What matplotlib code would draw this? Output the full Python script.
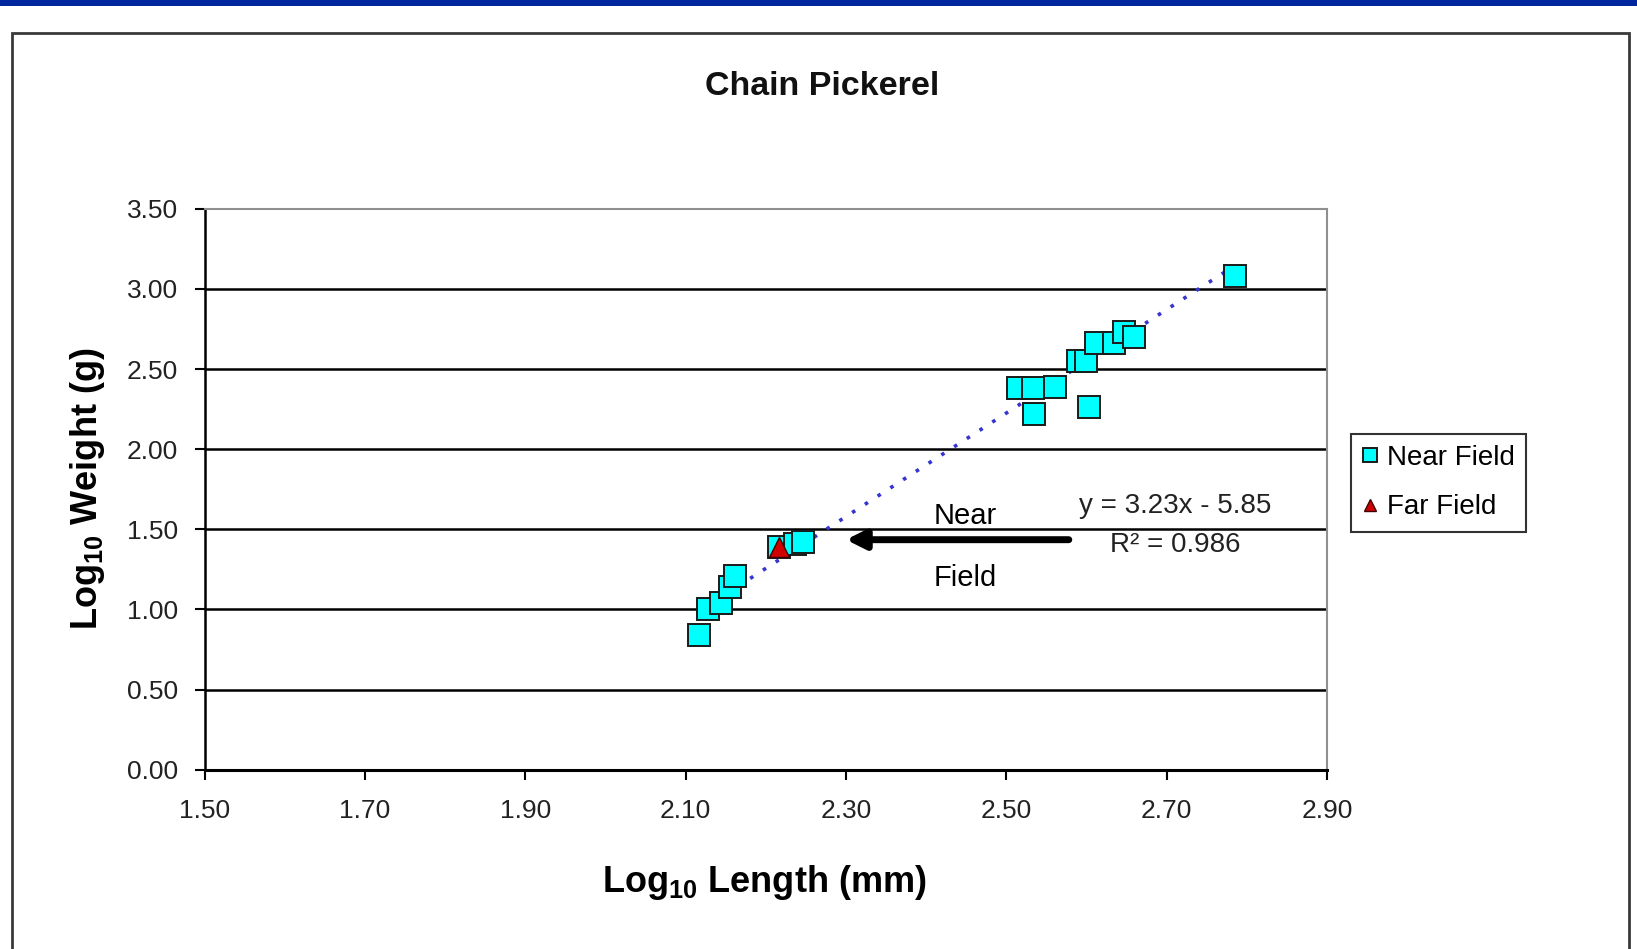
import matplotlib
matplotlib.use("Agg")
import matplotlib.pyplot as plt
from matplotlib.patches import Rectangle
import numpy as np

plt.rcParams['font.family'] = ['Liberation Sans', 'DejaVu Sans']
plt.rcParams['mathtext.default'] = 'regular'

# near field fish (log10 length mm, log10 weight g)
near_x = [2.117, 2.128, 2.144, 2.155, 2.162, 2.217, 2.236, 2.247,
          2.514, 2.533, 2.535, 2.561, 2.590, 2.600, 2.603, 2.612,
          2.634, 2.647, 2.659, 2.785]
near_y = [0.84, 1.00, 1.04, 1.14, 1.21, 1.39, 1.41, 1.42,
          2.38, 2.38, 2.22, 2.39, 2.55, 2.55, 2.26, 2.66,
          2.66, 2.73, 2.70, 3.08]
# far field fish
far_x = [2.217]
far_y = [1.39]

# trendline y = a*x + b
slope = 3.23
intercept = -5.85
r2 = 0.986

xticks = [1.50, 1.70, 1.90, 2.10, 2.30, 2.50, 2.70, 2.90]
yticks = [0.0, 0.5, 1.0, 1.5, 2.0, 2.5, 3.0, 3.5]

fig = plt.figure(figsize=(16.37, 9.49), dpi=100)
ax = fig.add_axes([0.125, 0.189, 0.6856, 0.591])

# outer frame and blue bar
fig.patches.append(Rectangle((0.0076, -0.05), 0.9876, 1.015, transform=fig.transFigure,
                             fill=False, edgecolor='#3a3a3a', linewidth=2))
fig.patches.append(Rectangle((0, 0.9937), 1, 0.0063, transform=fig.transFigure,
                             facecolor='#0026a0', edgecolor='none'))

for yv in yticks[1:-1]:
    ax.axhline(yv, color='black', linewidth=1.8, zorder=1)

tx = np.array([min(near_x), max(near_x)])
ax.plot(tx, slope * tx + intercept, color='#3535d0', linestyle=(0, (1, 3.2)),
        linewidth=2.6, zorder=3)

ax.plot(near_x, near_y, linestyle='none', marker='s', markersize=15.5,
        markerfacecolor='#00ffff', markeredgecolor='#1a1a1a', markeredgewidth=1.4,
        label='Near Field', zorder=4)
ax.plot(far_x, far_y, linestyle='none', marker='^', markersize=14,
        markerfacecolor='#d00000', markeredgecolor='#400000', markeredgewidth=1,
        label='Far Field', zorder=5)

ax.annotate('', xy=(2.30, 1.435), xytext=(2.578, 1.435),
            arrowprops=dict(arrowstyle='-|>', lw=5, color='black', mutation_scale=28,
                            shrinkA=0, shrinkB=0))
ax.text(2.449, 1.585, 'Near', fontsize=21, ha='center', va='center', color='black')
ax.text(2.449, 1.195, 'Field', fontsize=21, ha='center', va='center', color='black')
ax.text(2.711, 1.645, 'y = 3.23x - 5.85', fontsize=20, ha='center', va='center', color='#222222')
ax.text(2.711, 1.40, 'R² = %.3f' % r2, fontsize=20, ha='center', va='center', color='#222222')

ax.set_xlim(1.5, 2.9)
ax.set_ylim(0, 3.5)
ax.set_xticks(xticks)
ax.set_yticks(yticks)
ax.set_xticklabels(['%.2f' % v for v in xticks])
ax.set_yticklabels(['%.2f' % v for v in yticks])
ax.tick_params(axis='both', direction='out', length=7, width=1.5, labelsize=19,
               labelcolor='#222222', color='black')
ax.tick_params(axis='x', pad=14)
ax.tick_params(axis='y', pad=12)

ax.spines['left'].set_linewidth(1.8)
ax.spines['bottom'].set_linewidth(2.2)
ax.spines['top'].set_color('#909090')
ax.spines['right'].set_color('#909090')
ax.spines['top'].set_linewidth(1.5)
ax.spines['right'].set_linewidth(1.5)

ax.set_xlabel('Log$_{10}$ Length (mm)', fontsize=26, fontweight='bold')
ax.set_ylabel('Log$_{10}$ Weight (g)', fontsize=26, fontweight='bold')
ax.xaxis.set_label_coords(0.499, -0.166)
ax.yaxis.set_label_coords(-0.087, 0.5)

fig.text(0.502, 0.909, 'Chain Pickerel', fontsize=24.5, fontweight='bold',
         ha='center', va='center', color='#111111')

leg = fig.legend(loc='upper left', bbox_to_anchor=(0.825, 0.543), fontsize=20,
                 frameon=True, fancybox=False, edgecolor='black', handlelength=0.6,
                 handletextpad=0.3, borderpad=0.4, labelspacing=0.85, markerscale=0.62,
                 borderaxespad=0)
leg.get_frame().set_linewidth(1.5)

fig.savefig('out.png', dpi=100)
